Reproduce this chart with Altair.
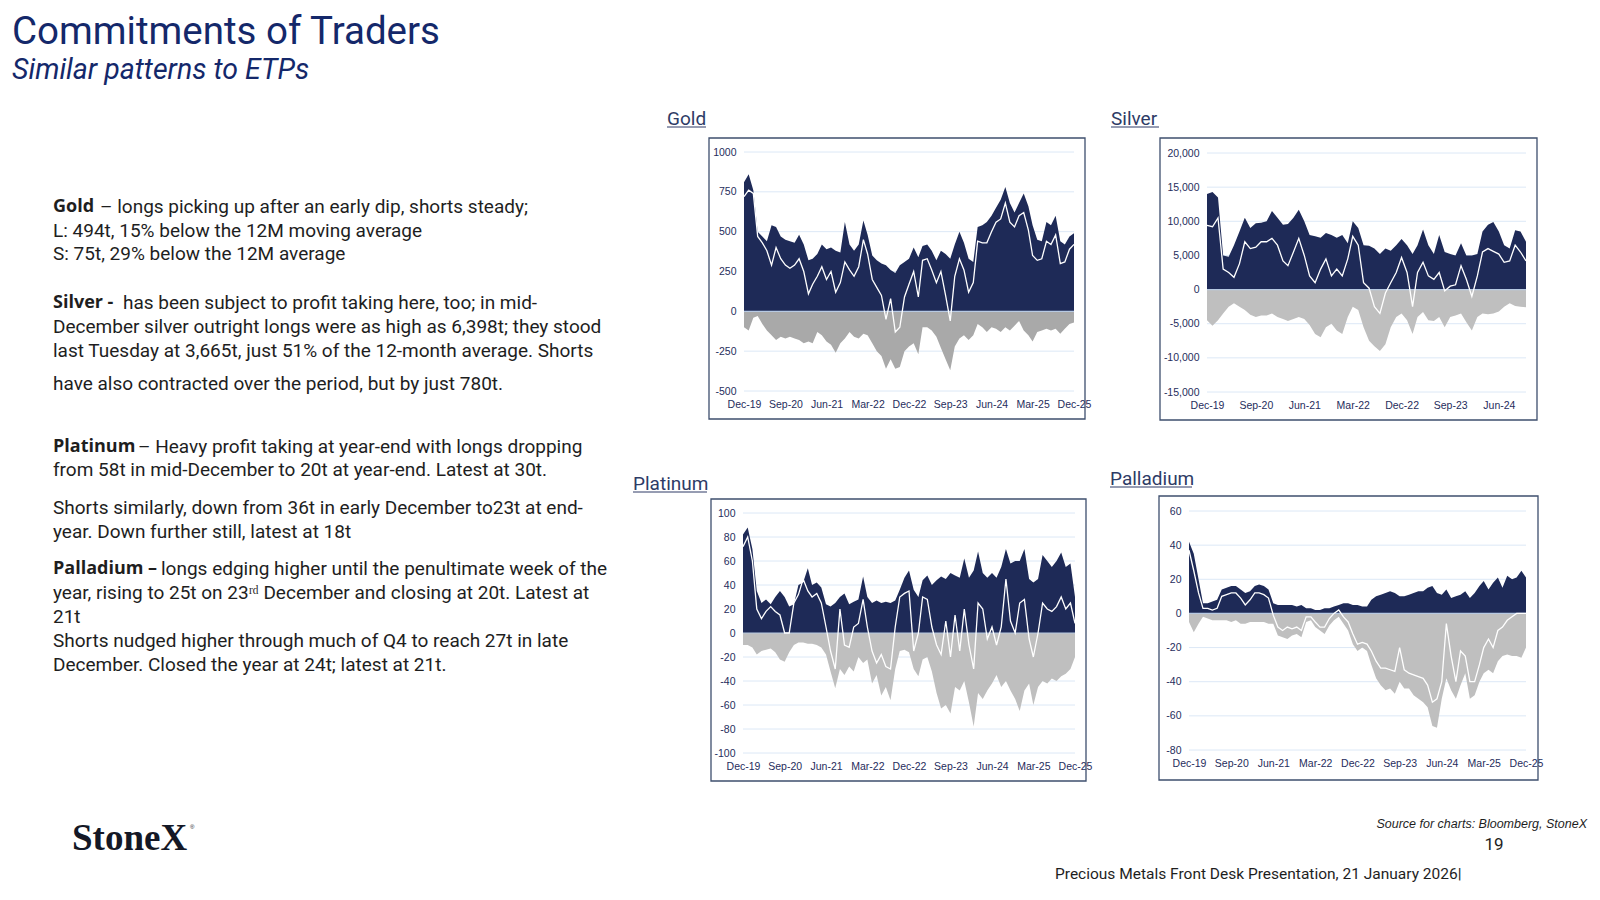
import altair as alt
import pandas as pd

W, H = 1584, 884

# ---------------- data (monthly) ----------------
dates_6y = pd.date_range("2019-12-01", "2025-12-01", freq="MS")   # 73 months
dates_silver = pd.date_range("2019-12-01", "2024-11-01", freq="MS")  # 60 months

gold_longs = [
    810,
    860, 760, 500, 470, 440, 540, 530, 470, 450, 440, 430, 480,
    420, 320, 330, 360, 420, 390, 400, 380, 370, 560, 420, 380,
    420, 570, 480, 350, 320, 300, 290, 260, 240, 290, 310, 330,
    400, 340, 410, 420, 380, 320, 380, 360, 330, 420, 500, 430,
    330, 310, 530, 540, 560, 600, 650, 700, 780, 680, 620, 680,
    740, 660, 540, 450, 440, 560, 540, 600, 440, 420, 470, 490,
]
gold_shorts = [
    -100,
    -120, -40, -30, -80, -120, -150, -180, -160, -170, -160, -170, -180,
    -200, -190, -200, -130, -150, -190, -210, -260, -200, -170, -130, -160,
    -170, -140, -150, -200, -250, -280, -360, -300, -360, -350, -250, -220,
    -200, -270, -100, -100, -120, -160, -230, -300, -370, -220, -170, -150,
    -180, -150, -80, -100, -130, -100, -110, -130, -100, -120, -90, -60,
    -120, -150, -190, -130, -120, -110, -120, -110, -140, -110, -80, -70,
]
gold_net = [
    720,
    760, 740, 470, 430, 380, 290, 400, 330, 290, 270, 290, 330,
    250, 110, 170, 220, 280, 200, 250, 120, 180, 310, 260, 220,
    280, 450, 360, 200, 150, 100, -50, 80, -130, -100, 90, 170,
    250, 90, 320, 330, 260, 180, 250, 100, -60, 220, 330, 260,
    120, 180, 440, 430, 430, 500, 560, 580, 680, 560, 530, 600,
    620, 510, 350, 320, 330, 440, 420, 480, 300, 310, 390, 420,
]

silver_longs = [
    14000,
    14300, 13500, 5000, 4800, 6500, 8500, 10500, 9000, 9700, 9800, 10000, 11500,
    10500, 9500, 9600, 10500, 11700, 10000, 8000, 7800, 7600, 8300, 8000, 7600,
    8000, 6800, 10000, 9000, 6500, 6400, 6000, 5200, 6000, 5700, 6500, 7400,
    6500, 5200, 6500, 8800, 6500, 5200, 8000, 5500, 5200, 5000, 6800, 5000,
    5000, 5200, 8500, 9500, 9900, 8500, 6500, 6000, 8700, 8500, 7000,
]
silver_shorts = [
    -4500,
    -5300, -4500, -3500, -2500, -2000, -2500, -3000, -3700, -4000, -3800, -3800, -3500,
    -4000, -4300, -4600, -4300, -4000, -4300, -5200, -6500, -7000, -5500, -5000, -6000,
    -6500, -4000, -2500, -3000, -5500, -7500, -8300, -9000, -8000, -5500, -4000, -3500,
    -4500, -6500, -4000, -3300, -4500, -4600, -4000, -5500, -4000, -3800, -3500, -4800,
    -6000, -4000, -3500, -3600, -3500, -3200, -2500, -2000, -2400, -2500, -2600,
]
silver_net = [
    9400,
    9200, 10500, 3000, 2500, 1800, 3800, 7000, 6000, 6200, 7000, 7000, 7500,
    6500, 4200, 3500, 5500, 7500, 5000, 2000, 1000, 3000, 4500, 2000, 3000,
    2000, 4500, 7800, 6500, 1000, 200, -2500, -3500, -500, 1000, 2500, 4700,
    2500, -2500, 2500, 4000, 2000, 1500, 2500, -200, 500, 700, 3500, 1500,
    -1000, 2000, 5500, 6000, 5600, 5200, 4000, 4200, 6500, 5500, 4200,
]

plat_longs = [
    82,
    88, 70, 35, 25, 28, 24, 30, 35, 30, 22, 24, 40,
    42, 54, 40, 42, 38, 24, 22, 25, 30, 33, 24, 26,
    28, 47, 30, 25, 27, 25, 26, 25, 27, 36, 46, 52,
    36, 30, 44, 48, 40, 44, 47, 45, 50, 48, 46, 62,
    46, 52, 68, 50, 46, 50, 46, 55, 70, 58, 60, 60,
    70, 45, 42, 45, 65, 60, 55, 60, 67, 55, 58, 30,
]
plat_shorts = [
    -10,
    -10, -12, -18, -15, -14, -13, -16, -22, -24, -16, -10, -8,
    -8, -9, -9, -10, -12, -18, -32, -46, -30, -35, -28, -32,
    -20, -25, -22, -42, -35, -52, -45, -56, -30, -15, -14, -16,
    -30, -36, -22, -20, -32, -50, -63, -60, -67, -45, -48, -40,
    -58, -78, -50, -55, -48, -42, -35, -45, -40, -48, -55, -65,
    -48, -42, -60, -45, -40, -42, -38, -40, -36, -34, -30, -20,
]
plat_net = [
    72,
    80, 60, 20, 12, 18, 22, 18, 15, 0, 0, 25, 32,
    45, 35, 30, 33, 25, 5, -15, -30, 20, -10, -12, 5,
    8, 28, 5, -15, -25, -18, -28, -30, 5, 30, 33, 35,
    -15, 0, 30, 28, 5, -10, -18, 10, -20, 15, -15, 20,
    -10, -30, 25, 20, -5, 5, -10, 5, 45, 10, 0, 25,
    28, -5, -20, 0, 25, 20, 18, 22, 30, 20, 25, 8,
]

pall_longs = [
    42,
    35, 20, 6, 6, 7, 8, 14, 15, 16, 16, 14, 12,
    13, 16, 17, 16, 14, 6, 5, 5, 5, 5, 4, 5,
    3, 3, 2, 2, 3, 3, 4, 5, 6, 6, 5, 5,
    4, 4, 8, 10, 11, 12, 13, 12, 10, 10, 11, 12,
    13, 13, 15, 16, 12, 11, 14, 9, 10, 11, 13, 9,
    12, 16, 19, 14, 18, 21, 15, 22, 20, 21, 25, 21,
]
pall_shorts = [
    -5,
    -11, -6, -2, -3, -4, -4, -4, -4, -5, -4, -6, -6,
    -5, -5, -5, -5, -6, -6, -13, -14, -15, -13, -12, -14,
    -5, -4, -8, -10, -12, -7, -4, -2, -6, -10, -18, -22,
    -20, -22, -30, -38, -42, -45, -44, -47, -40, -44, -44, -48,
    -50, -52, -55, -66, -67, -50, -38, -45, -50, -42, -35, -50,
    -48, -40, -35, -33, -35, -28, -25, -24, -25, -25, -26, -20,
]
pall_net = [
    37,
    25, 12, 3, 3, 2, 3, 10, 11, 12, 12, 9, 5,
    8, 12, 12, 11, 9, -1, -8, -10, -8, -9, -8, -10,
    -2, -2, -5, -8, -8, -3, 0, 2, -2, -5, -12, -18,
    -17, -18, -22, -28, -32, -32, -33, -34, -20, -33, -35, -36,
    -37, -38, -42, -52, -50, -40, -6, -25, -40, -22, -25, -40,
    -40, -30, -20, -15, -20, -10, -8, -4, -2, 0, 0, 0,
]

tick_months = [(2019, 12), (2020, 9), (2021, 6), (2022, 3), (2022, 12),
               (2023, 9), (2024, 6), (2025, 3), (2025, 12)]
silver_tick_months = tick_months[:7]

gold_ticks = [1000, 750, 500, 250, 0, -250, -500]
silver_ticks = [20000, 15000, 10000, 5000, 0, -5000, -10000, -15000]
plat_ticks = [100, 80, 60, 40, 20, 0, -20, -40, -60, -80, -100]
pall_ticks = [60, 40, 20, 0, -20, -40, -60, -80]

# ---------------- styles ----------------
NAVY = "#1E2A57"
GRID = "#DCE8F6"
ZERO = "#B7C9E2"
BOX = "#3E4F6E"
AXC = "#1F2D5C"
TITLE_C = "#14286A"
BODY_C = "#1E1E1E"
CT_C = "#2E3B66"
AXF = "Liberation Sans Narrow, Arial Narrow, Liberation Sans, sans-serif"


def DT(y, m, d=1):
    return alt.DateTime(year=y, month=m, date=d)


def panel(dates, longs, shorts, net, x0, x1, ytop, ybot, ydom, yticks,
          ticks, end, gray, box, fmt):
    df = pd.DataFrame({"date": dates, "longs": longs, "shorts": shorts, "net": net})
    xs = alt.Scale(domain=[DT(2019, 12), DT(*end)], range=[x0, x1])
    ys = alt.Scale(domain=ydom, range=[ybot, ytop], nice=False, zero=False)
    d0 = dates[0]
    d1 = pd.Timestamp(year=end[0], month=end[1], day=1)
    lexpr = ("datum.value < 0 ? '-' + format(-datum.value, '%s') : format(datum.value, '%s')"
             % (fmt, fmt))

    gdf = pd.DataFrame({"v": [t for t in yticks if t != 0], "d0": d0, "d1": d1})
    grid = alt.Chart(gdf).mark_rule(color=GRID, strokeWidth=1).encode(
        x=alt.X("d0:T", scale=xs, axis=None), x2="d1:T",
        y=alt.Y("v:Q", scale=ys, axis=None))

    long_area = alt.Chart(df).mark_area(color=NAVY, opacity=1).encode(
        x=alt.X("date:T", scale=xs, axis=alt.Axis(
            orient="bottom", offset=ybot - H, values=[DT(y, m) for y, m in ticks],
            format="%b-%y", labelAngle=0, labelFlush=False, labelOverlap=False,
            ticks=False, domain=False, grid=False, title=None, labelPadding=8,
            labelFont=AXF, labelFontSize=10.5, labelColor=AXC)),
        y=alt.Y("longs:Q", scale=ys, axis=alt.Axis(
            orient="left", offset=-x0, values=yticks, labelExpr=lexpr,
            ticks=False, domain=False, grid=False, title=None, labelPadding=8,
            labelFont=AXF, labelFontSize=10.5, labelColor=AXC)),
        y2=alt.datum(0))

    short_area = alt.Chart(df).mark_area(color=gray, opacity=1).encode(
        x=alt.X("date:T", scale=xs, axis=None),
        y=alt.Y("shorts:Q", scale=ys, axis=None),
        y2=alt.datum(0))

    zdf = pd.DataFrame({"v": [0], "d0": [d0], "d1": [d1]})
    zero = alt.Chart(zdf).mark_rule(color=ZERO, strokeWidth=1.2).encode(
        x=alt.X("d0:T", scale=xs, axis=None), x2="d1:T",
        y=alt.Y("v:Q", scale=ys, axis=None))

    net_line = alt.Chart(df).mark_line(color="white", strokeWidth=1.3).encode(
        x=alt.X("date:T", scale=xs, axis=None),
        y=alt.Y("net:Q", scale=ys, axis=None))

    bdf = pd.DataFrame({"x": [box[0]], "x2": [box[1]], "y": [box[2]], "y2": [box[3]]})
    frame = alt.Chart(bdf).mark_rect(fillOpacity=0, stroke=BOX, strokeWidth=1.3).encode(
        x=alt.X("x:Q", scale=None, axis=None), x2="x2:Q",
        y=alt.Y("y:Q", scale=None, axis=None), y2="y2:Q")

    return [grid, long_area, short_area, zero, net_line, frame]


layers = []
layers += panel(dates_6y, gold_longs, gold_shorts, gold_net, 736, 1066, 144, 383,
                [-500, 1000], gold_ticks, tick_months, (2025, 12), "#A9A9A9",
                (701, 1077, 130, 411), "d")
layers += panel(dates_silver, silver_longs, silver_shorts, silver_net, 1199, 1518, 145, 384,
                [-15000, 20000], silver_ticks, silver_tick_months, (2024, 11), "#BFBFBF",
                (1152, 1529, 130, 412), ",")
layers += panel(dates_6y, plat_longs, plat_shorts, plat_net, 735, 1067, 505, 745,
                [-100, 100], plat_ticks, tick_months, (2025, 12), "#BFBFBF",
                (703, 1078, 491, 773), "d")
layers += panel(dates_6y, pall_longs, pall_shorts, pall_net, 1181, 1518, 503, 742,
                [-80, 60], pall_ticks, tick_months, (2025, 12), "#BFBFBF",
                (1151, 1530, 488, 772), "d")


# ---------------- texts ----------------
def text_layer(rows, **mark):
    df = pd.DataFrame(rows, columns=["x", "y", "t"])
    return alt.Chart(df).mark_text(**mark).encode(
        x=alt.X("x:Q", scale=None, axis=None),
        y=alt.Y("y:Q", scale=None, axis=None),
        text="t:N")


layers.append(text_layer([(4, 36, "Commitments of Traders")],
                         font="Roboto", fontSize=38.5, color=TITLE_C, align="left",
                         baseline="alphabetic"))
layers.append(text_layer([(4, 71, "Similar patterns to ETPs")],
                         font="Roboto", fontSize=28.5, fontStyle="italic", color=TITLE_C,
                         align="left", baseline="alphabetic"))

bold_rows = [
    (45, 199, "Gold"),
    (45, 295, "Silver -"),
    (45, 439, "Platinum"),
    (45, 561, "Palladium –"),
]
body_rows = [
    (92, 199, "– longs picking up after an early dip, shorts steady;"),
    (45, 223, "L:  494t, 15% below the 12M moving average"),
    (45, 246, "S:  75t, 29% below the 12M average"),
    (115, 295, "has been subject to profit taking here, too; in mid-"),
    (45, 319, "December silver outright longs were as high as 6,398t; they stood"),
    (45, 343, "last Tuesday at 3,665t, just 51% of the 12-month average.  Shorts"),
    (45, 376, "have also contracted over the period, but by just 780t."),
    (130, 439, "– Heavy profit taking at year-end with longs dropping"),
    (45, 462, "from 58t in mid-December to 20t at year-end.  Latest at 30t."),
    (45, 500, "Shorts similarly, down from 36t in early December to23t at end-"),
    (45, 524, "year.  Down further still, latest at 18t"),
    (153, 561, "longs edging higher until the penultimate week of the"),
    (45, 585, "year, rising to 25t on 23ʳᵈ December and closing at 20t.  Latest at"),
    (45, 609, "21t"),
    (45, 633, "Shorts nudged higher through much of Q4 to reach 27t in late"),
    (45, 657, "December.  Closed the year at 24t; latest at 21t."),
]
layers.append(text_layer(bold_rows, font="Open Sans", fontWeight="bold", fontSize=18,
                         color=BODY_C, align="left", baseline="middle"))
layers.append(text_layer(body_rows, font="Roboto", fontSize=19, color=BODY_C,
                         align="left", baseline="middle"))

# chart titles (underlined)
ct_rows = [(659, 117, "Gold"), (1103, 117, "Silver"), (625, 482, "Platinum"),
           (1102, 477, "Palladium")]
layers.append(text_layer(ct_rows, font="Roboto", fontSize=19, color=CT_C,
                         align="left", baseline="alphabetic"))
ul = pd.DataFrame({"x": [659, 1103, 625, 1102], "x2": [698, 1151, 699, 1184],
                   "y": [119, 119, 484, 479]})
layers.append(alt.Chart(ul).mark_rule(color=CT_C, strokeWidth=1).encode(
    x=alt.X("x:Q", scale=None, axis=None), x2="x2:Q",
    y=alt.Y("y:Q", scale=None, axis=None)))

# logo & footer
layers.append(text_layer([(64, 842, "StoneX")], font="Liberation Serif", fontSize=37,
                         fontWeight="bold", color="#141826", align="left",
                         baseline="alphabetic"))
layers.append(text_layer([(182, 821, "®")], font="Liberation Sans", fontSize=6,
                         color="#141826", align="left", baseline="alphabetic"))
layers.append(text_layer([(1579, 816, "Source for charts: Bloomberg, StoneX")],
                         font="Liberation Sans", fontStyle="italic", fontSize=12.5,
                         color="#1E1E1E", align="right", baseline="middle"))
layers.append(text_layer([(1486, 837, "19")], font="Roboto", fontSize=17,
                         color="#1E1E1E", align="center", baseline="middle"))
layers.append(text_layer([(1047, 866, "Precious Metals Front Desk Presentation, 21 January 2026|")],
                         font="Roboto", fontSize=15.5, color="#1E1E1E", align="left",
                         baseline="middle"))

chart = alt.layer(*layers).resolve_scale(
    x="independent", y="independent"
).properties(
    width=W, height=H, autosize=alt.AutoSizeParams(type="none"), padding=0,
    background="white"
).configure_view(stroke=None)

chart.save("out.html", embed_options={"renderer": "svg", "actions": False})
